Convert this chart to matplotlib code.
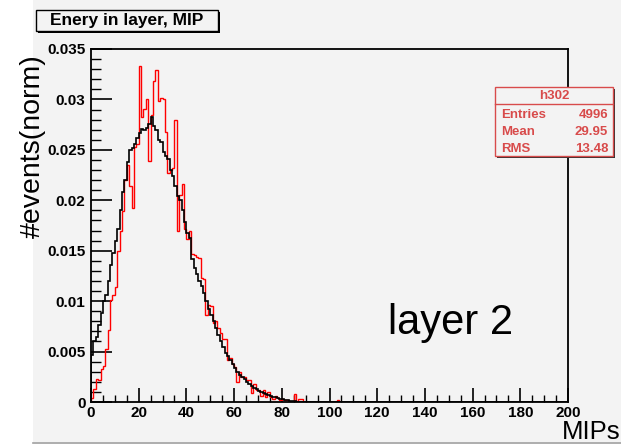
import numpy as np
import matplotlib
matplotlib.use("Agg")
import matplotlib.pyplot as plt
from matplotlib.patches import Rectangle

plt.rcParams['font.family'] = ['Liberation Sans', 'DejaVu Sans']

# ---- histogram contents (normalised, 1 MIP per bin, 0..200) ----
n_bins = 200
bin_edges = np.arange(0, n_bins + 1, 1.0)

reference_head = [
    0.0047, 0.0060, 0.0064, 0.0076, 0.0088, 0.0100, 0.0106, 0.0120, 0.0136, 0.0148,
    0.0160, 0.0172, 0.0190, 0.0208, 0.0220, 0.0238, 0.0250, 0.0252, 0.0256, 0.0262,
    0.0267, 0.0271, 0.0270, 0.0272, 0.0276, 0.0283, 0.0274, 0.0270, 0.0260, 0.0258,
    0.0248, 0.0244, 0.0241, 0.0230, 0.0224, 0.0214, 0.0204, 0.0200, 0.0190, 0.0178,
    0.0168, 0.0163, 0.0142, 0.0133, 0.0127, 0.0120, 0.0115, 0.0108, 0.0100, 0.0092,
    0.0086, 0.0080, 0.0073, 0.0066, 0.0060, 0.0055, 0.0049, 0.0046, 0.0042, 0.0038,
    0.0034, 0.0030, 0.0027, 0.0025, 0.0023, 0.0020, 0.0018, 0.0016, 0.0014, 0.0013,
    0.0011, 0.0010, 0.0009, 0.0008, 0.0007, 0.0006, 0.0005, 0.0005, 0.0004, 0.0003,
    0.0003, 0.0002, 0.0002, 0.0001, 0.0001, 0.0001,
]

h302_head = [
    0.0004, 0.0013, 0.0023, 0.0022, 0.0033, 0.0036, 0.0053, 0.0071, 0.0101, 0.0106,
    0.0114, 0.0150, 0.0170, 0.0189, 0.0220, 0.0235, 0.0214, 0.0192, 0.0253, 0.0256,
    0.0333, 0.0283, 0.0291, 0.0300, 0.0239, 0.0285, 0.0318, 0.0329, 0.0298, 0.0301,
    0.0300, 0.0268, 0.0227, 0.0230, 0.0232, 0.0280, 0.0170, 0.0205, 0.0216, 0.0172,
    0.0162, 0.0170, 0.0147, 0.0146, 0.0144, 0.0143, 0.0123, 0.0122, 0.0086, 0.0096,
    0.0095, 0.0078, 0.0080, 0.0073, 0.0068, 0.0062, 0.0062, 0.0042, 0.0044, 0.0038,
    0.0035, 0.0020, 0.0030, 0.0025, 0.0025, 0.0022, 0.0022, 0.0009, 0.0018, 0.0012,
    0.0012, 0.0006, 0.0012, 0.0005, 0.0010, 0.0005, 0.0003, 0.0006, 0.0004, 0.0002,
    0.0003, 0.0002, 0.0002, 0.0000, 0.0000, 0.0008, 0.0000, 0.0003, 0.0003, 0.0000,
    0.0000, 0.0000, 0.0000, 0.0000, 0.0000, 0.0000, 0.0000, 0.0000, 0.0000, 0.0000,
    0.0000, 0.0000, 0.0000, 0.0002,
]

reference_hist = np.zeros(n_bins)
reference_hist[:len(reference_head)] = reference_head
h302_hist = np.zeros(n_bins)
h302_hist[:len(h302_head)] = h302_head

x_ticks = np.arange(0, 201, 20)
y_ticks = [0, 0.005, 0.01, 0.015, 0.02, 0.025, 0.03, 0.035]
y_tick_labels = ["0", "0.005", "0.01", "0.015", "0.02", "0.025", "0.03", "0.035"]

stats_name = "h302"
stats_rows = [("Entries", "4996"), ("Mean", "29.95"), ("RMS", "13.48")]

# ---- canvas ----
W, H = 621, 445
fig = plt.figure(figsize=(W / 100, H / 100), dpi=100)
fig.patch.set_facecolor("white")
canvas_grey = "#f3f3f3"


def fx(px):
    return px / W


def fy(py):
    return 1 - py / H


fig.add_artist(Rectangle((fx(33), fy(442)), fx(621) - fx(33), fy(0) - fy(442),
                         transform=fig.transFigure, facecolor=canvas_grey,
                         edgecolor="none", zorder=-10))
fig.add_artist(plt.Line2D([fx(33), 1], [fy(442.5), fy(442.5)], transform=fig.transFigure,
                          color="#a0a0a0", lw=1.2))

left, right, top, bottom = 91, 568, 49, 402
ax = fig.add_axes([fx(left), fy(bottom), fx(right) - fx(left), fy(top) - fy(bottom)])
ax.set_facecolor(canvas_grey)

ax.stairs(reference_hist, bin_edges, baseline=0, color="black", lw=1.2, zorder=3)
ax.stairs(h302_hist, bin_edges, baseline=0, color="#ff0000", lw=1.0, zorder=2)

ax.set_xlim(0, 200)
ax.set_ylim(0, 0.035)
ax.set_xticks(x_ticks)
ax.set_xticklabels([str(v) for v in x_ticks])
ax.set_xticks(np.arange(0, 201, 5), minor=True)
ax.set_yticks(y_ticks)
ax.set_yticklabels(y_tick_labels)
ax.set_yticks(np.arange(0, 0.0351, 0.001), minor=True)

ax.tick_params(axis="x", which="major", direction="in", length=10, width=1.2,
               pad=3, labelsize=11)
ax.tick_params(axis="x", which="minor", direction="in", length=5, width=1.0)
ax.tick_params(axis="y", which="major", direction="in", length=15, width=1.2,
               pad=4, labelsize=11)
ax.tick_params(axis="y", which="minor", direction="in", length=7, width=1.0)
for lab in ax.get_xticklabels() + ax.get_yticklabels():
    lab.set_fontweight("bold")
for s in ax.spines.values():
    s.set_linewidth(1.3)

# axis titles
fig.text(fx(620), fy(439), "MIPs", ha="right", va="baseline", fontsize=18.5)
fig.text(fx(33), fy(146), "#events(norm)", ha="center", va="center",
         rotation=90, fontsize=20.5)

# panel label
fig.text(fx(388), fy(334), "layer 2", ha="left", va="baseline", fontsize=30)

# title box with shadow
tb_l, tb_t, tb_r, tb_b = 36, 10, 218, 31
fig.add_artist(Rectangle((fx(tb_l + 2), fy(tb_b + 2)), fx(tb_r) - fx(tb_l), fy(tb_t) - fy(tb_b),
                         transform=fig.transFigure, facecolor="black", edgecolor="none", zorder=4))
fig.add_artist(Rectangle((fx(tb_l), fy(tb_b)), fx(tb_r) - fx(tb_l), fy(tb_t) - fy(tb_b),
                         transform=fig.transFigure, facecolor=canvas_grey,
                         edgecolor="black", lw=1.0, zorder=5))
fig.text(fx((tb_l + tb_r) / 2), fy((tb_t + tb_b) / 2 + 0.5), "Enery in layer, MIP",
         ha="center", va="center", fontsize=12.5, fontweight="bold", zorder=6)

# statistics box
sb_l, sb_t, sb_r, sb_b = 495, 87, 613, 156
stat_red = "#d84b4b"
fig.add_artist(Rectangle((fx(sb_l + 2), fy(sb_b + 2)), fx(sb_r) - fx(sb_l), fy(sb_t) - fy(sb_b),
                         transform=fig.transFigure, facecolor="#303030", edgecolor="none", zorder=4))
fig.add_artist(Rectangle((fx(sb_l), fy(sb_b)), fx(sb_r) - fx(sb_l), fy(sb_t) - fy(sb_b),
                         transform=fig.transFigure, facecolor=canvas_grey,
                         edgecolor=stat_red, lw=1.0, zorder=5))
fig.add_artist(plt.Line2D([fx(sb_l), fx(sb_r)], [fy(104), fy(104)], transform=fig.transFigure,
                          color=stat_red, lw=1.0, zorder=6))
fig.text(fx((sb_l + sb_r) / 2), fy(96), stats_name, ha="center", va="center",
         fontsize=9.5, fontweight="bold", color=stat_red, zorder=7)
for i, (name, val) in enumerate(stats_rows):
    yy = fy(115 + i * 17)
    fig.text(fx(501), yy, name, ha="left", va="center", fontsize=9.5,
             fontweight="bold", color=stat_red, zorder=7)
    fig.text(fx(608), yy, val, ha="right", va="center", fontsize=9.5,
             fontweight="bold", color=stat_red, zorder=7)

fig.savefig("out.png", dpi=100, facecolor=fig.get_facecolor())
